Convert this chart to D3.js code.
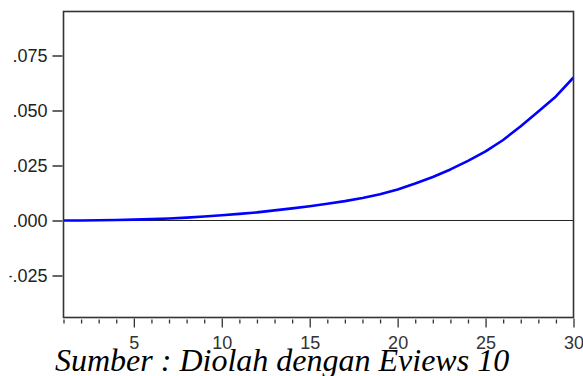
<!DOCTYPE html>
<html>
<head>
<meta charset="utf-8">
<script src="https://cdn.jsdelivr.net/npm/d3@7"></script>
<style>
  html, body { margin: 0; padding: 0; background: #fff; }
  svg { display: block; }
  .tick-label { font-family: "Liberation Sans", Arial, sans-serif; }
  .caption { font-family: "Liberation Serif", "Times New Roman", serif; font-style: italic; }
</style>
</head>
<body>
<svg id="chart" width="583" height="376"></svg>
<script>
// Response over 30 periods
const periods = d3.range(1, 31);
const response = [
  0.0000, 0.0000, 0.0001, 0.0002, 0.0004, 0.0006, 0.0009, 0.0013, 0.0018, 0.0024,
  0.0030, 0.0037, 0.0046, 0.0055, 0.0065, 0.0076, 0.0088, 0.0102, 0.0119, 0.0141,
  0.0168, 0.0198, 0.0232, 0.0271, 0.0314, 0.0366, 0.0428, 0.0495, 0.0564, 0.0650
];
const yTicks = [-0.025, 0, 0.025, 0.05, 0.075];
const yTickLabels = ["-.025", ".000", ".025", ".050", ".075"];
const xMajorTicks = [5, 10, 15, 20, 25, 30];
const caption = "Sumber : Diolah dengan Eviews 10";

const svg = d3.select("#chart");
const plotLeft = 63.5, plotRight = 573.5, plotTop = 11.5, plotBottom = 317.5;

const x = d3.scaleLinear().domain([1, 30]).range([plotLeft, plotRight]);
const y = d3.scaleLinear().domain([-0.0441, 0.095]).range([plotBottom, plotTop]);

const frameColor = "#333";

// the left edge of the graphic trims the y labels
svg.append("defs").append("clipPath").attr("id", "label-clip")
  .append("rect").attr("x", 9.5).attr("y", 0).attr("width", 583).attr("height", 376);

// zero reference line
svg.append("line")
  .attr("x1", plotLeft).attr("x2", plotRight)
  .attr("y1", y(0)).attr("y2", y(0))
  .attr("stroke", "#222").attr("stroke-width", 1);

// the response line
const line = d3.line().x((d, i) => x(periods[i])).y(d => y(d));
svg.append("path")
  .datum(response)
  .attr("d", line)
  .attr("fill", "none")
  .attr("stroke", "#0000ff")
  .attr("stroke-width", 2.6)
  .attr("stroke-linejoin", "round");

// frame
svg.append("rect")
  .attr("x", plotLeft).attr("y", plotTop)
  .attr("width", plotRight - plotLeft).attr("height", plotBottom - plotTop)
  .attr("fill", "none").attr("stroke", frameColor).attr("stroke-width", 1.6);

// left axis
const yAxis = d3.axisLeft(y)
  .tickValues(yTicks)
  .tickSize(10)
  .tickPadding(5)
  .tickFormat((d, i) => yTickLabels[i]);
const gy = svg.append("g")
  .attr("clip-path", "url(#label-clip)")
  .append("g")
  .attr("transform", `translate(${plotLeft - 1},0)`).call(yAxis);
gy.attr("font-family", null).attr("font-size", null);
gy.select(".domain").remove();
gy.selectAll(".tick line").attr("stroke", frameColor).attr("stroke-width", 1.3);
gy.selectAll(".tick text")
  .attr("class", "tick-label")
  .attr("font-size", 18)
  .attr("fill", "#222");

// bottom axis: minor ticks every period, major ticks every five
const xMinor = d3.axisBottom(x)
  .tickValues(periods.filter(p => !xMajorTicks.includes(p)))
  .tickSize(4)
  .tickFormat("");
const gxm = svg.append("g").attr("transform", `translate(0,${plotBottom + 2})`).call(xMinor);
gxm.select(".domain").remove();
gxm.selectAll(".tick line").attr("stroke", frameColor).attr("stroke-width", 1.3);

const xMajor = d3.axisBottom(x)
  .tickValues(xMajorTicks)
  .tickSize(9)
  .tickPadding(9)
  .tickFormat(d3.format("d"));
const gx = svg.append("g").attr("transform", `translate(0,${plotBottom + 1})`).call(xMajor);
gx.attr("font-family", null).attr("font-size", null);
gx.select(".domain").remove();
gx.selectAll(".tick line").attr("stroke", frameColor).attr("stroke-width", 1.3);
gx.selectAll(".tick text")
  .attr("class", "tick-label")
  .attr("font-size", 18)
  .attr("fill", "#333");

// source caption
svg.append("text")
  .attr("class", "caption")
  .attr("x", 55).attr("y", 371)
  .attr("font-size", 32)
  .attr("fill", "#000")
  .text(caption);
</script>
</body>
</html>
